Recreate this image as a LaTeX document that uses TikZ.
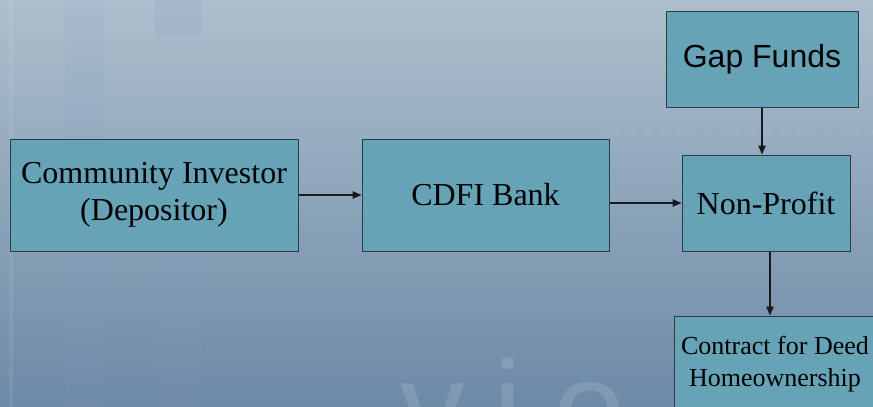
\documentclass[tikz,border=0pt]{standalone}
\usepackage{fontspec}
\setmainfont{Liberation Serif}
\newfontfamily\arialfont{Liberation Sans}
\usetikzlibrary{arrows.meta,calc}

\definecolor{boxfill}{HTML}{66A3B6}
\definecolor{boxline}{HTML}{2E3B42}
\definecolor{bgtop}{HTML}{ADBFCD}
\definecolor{bgmid}{HTML}{9CB1C4}
\definecolor{bgbot}{HTML}{6C89A6}
\definecolor{bandblue}{HTML}{8A9FC4}

\tikzset{
  flowbox/.style={draw=boxline, line width=1pt, fill=boxfill, rectangle,
    inner sep=0pt, align=center, text=black,
    font=\fontsize{32}{37}\selectfont},
  arr/.style={draw=black!90, line width=1.1pt,
    -{Triangle[length=9pt,width=7.5pt]}},
  watermark/.style={text=white, opacity=0.13, inner sep=0pt, anchor=base west,
    font=\arialfont\fontsize{130}{130}\selectfont}
}

\begin{document}
\begin{tikzpicture}[x=1pt,y=-1pt]
  % backdrop with faint decorative bands
  \useasboundingbox (0,0) rectangle (873,407);
  \shade[top color=bgtop, middle color=bgmid, bottom color=bgbot]
    (0,0) rectangle (873,407);
  \fill[white, opacity=0.07] (9,0) rectangle (13,407);
  \fill[bandblue, opacity=0.10] (65,0) rectangle (104,407);
  \fill[bandblue, opacity=0.22] (155,0) rectangle (202,35);
  \fill[bandblue, opacity=0.08] (155,250) rectangle (202,407);
  \draw[white, opacity=0.06, line width=4pt, dash pattern=on 6pt off 9pt]
    (600,133) -- (873,133);
  \node[watermark] (wm) at (400,452) {v\hspace{28pt}i\hspace{32pt}o};

  % boxes
  \node[flowbox, minimum width=288pt, minimum height=112pt] (inv) at (154,195)
    {Community Investor\\(Depositor)};
  \node[flowbox, minimum width=247pt, minimum height=112pt] (bank) at (485.5,195)
    {CDFI Bank};
  \node[flowbox, minimum width=192pt, minimum height=96pt,
        font=\arialfont\fontsize{32}{37}\selectfont] (gap) at (762,59)
    {\raisebox{-3pt}{Gap Funds}};
  \node[flowbox, minimum width=168pt, minimum height=96pt] (np) at (766,203)
    {Non-Profit};
  \node[flowbox, minimum width=202pt, minimum height=96pt,
        font=\fontsize{26}{32}\selectfont] (deed) at (775,364)
    {Contract for Deed\\Homeownership};

  % connectors
  \draw[arr] (inv.east) -- (bank.west);
  \draw[arr] (np.west -| bank.east) -- (np.west);
  \draw[arr] (gap.south) -- (gap.south |- np.north);
  \draw[arr] ([xshift=4pt]np.south) -- ([xshift=4pt]np.south |- deed.north);
\end{tikzpicture}
\end{document}
